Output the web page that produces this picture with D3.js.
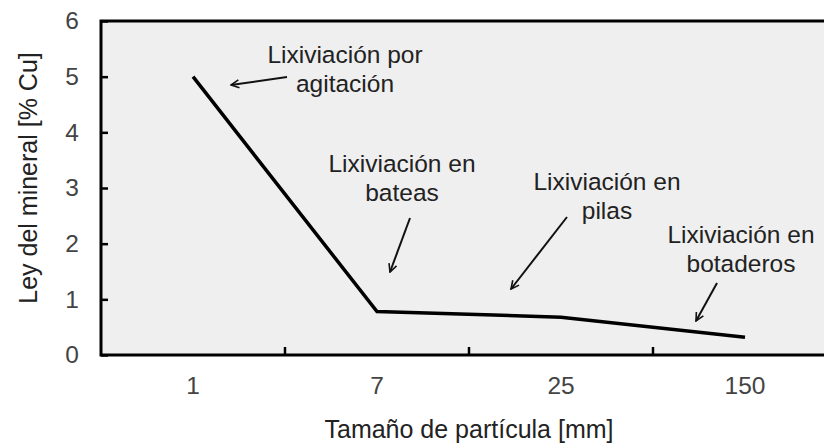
<!DOCTYPE html>
<html>
<head>
<meta charset="utf-8">
<script src="https://cdn.jsdelivr.net/npm/d3@7"></script>
<style>
  body { margin: 0; background: #fff; }
  text { font-family: "Liberation Sans", Arial, sans-serif; }
</style>
</head>
<body>
<div id="chart"></div>
<script>
// categorias del eje x (tamaño de partícula, mm)
var sizes = ['1', '7', '25', '150'];
// ley del mineral [% Cu]
var grade = [5.0, 0.78, 0.68, 0.32];
// marcas del eje y
var yTicks = [0, 1, 2, 3, 4, 5, 6];
// textos de las anotaciones
var notes = [
  ['Lixiviación por', 'agitación'],
  ['Lixiviación en', 'bateas'],
  ['Lixiviación en', 'pilas'],
  ['Lixiviación en', 'botaderos']
];

// lienzo (ojo: "top" es de window, no usarlo)
var W = 824, H = 447;
var plotLeft = 101, plotTop = 21, plotBottom = 355;
var band = 184;
var fs = 24.5;

// posiciones de anotaciones (px): texto (cx, y primera linea), flecha (desde -> punta)
var noteLayout = [
  {cx: 345, y: 63, x1: 287, y1: 77, x2: 231, y2: 85},
  {cx: 402, y: 172, x1: 410, y1: 218, x2: 390, y2: 272},
  {cx: 607, y: 190, x1: 567, y1: 217, x2: 511, y2: 289},
  {cx: 741, y: 243, x1: 717, y1: 283, x2: 696, y2: 321}
];

var svg = d3.select('#chart').append('svg')
  .attr('width', W).attr('height', H);

var x = d3.scaleBand().domain(sizes).range([plotLeft, plotLeft + band * sizes.length]).padding(0);
var y = d3.scaleLinear().domain([0, 6]).range([plotBottom, plotTop]);

svg.append('defs').append('marker')
  .attr('id', 'arrow')
  .attr('viewBox', '0 0 10 10')
  .attr('refX', 9).attr('refY', 5)
  .attr('markerWidth', 5).attr('markerHeight', 5)
  .attr('markerUnits', 'strokeWidth')
  .attr('orient', 'auto')
  .append('path')
  .attr('d', 'M1,1 L9,5 L1,9')
  .attr('fill', 'none')
  .attr('stroke', '#111')
  .attr('stroke-width', 1.6);

// fondo del área de trazado
svg.append('rect')
  .attr('x', plotLeft).attr('y', plotTop)
  .attr('width', W - plotLeft).attr('height', plotBottom - plotTop)
  .attr('fill', '#efefef');

// eje y
var gy = svg.append('g')
  .attr('transform', 'translate(' + plotLeft + ',0)')
  .call(d3.axisLeft(y).tickValues(yTicks).tickSize(-7).tickPadding(22).tickFormat(d3.format('d')));
gy.select('.domain').remove();
gy.selectAll('line').attr('stroke', '#000').attr('stroke-width', 2.5);
gy.selectAll('text').attr('font-size', fs).attr('fill', '#444').attr('font-family', 'Liberation Sans, Arial, sans-serif');

// eje x (etiquetas en el centro de cada banda)
var gx = svg.append('g')
  .attr('transform', 'translate(0,' + plotBottom + ')')
  .call(d3.axisBottom(x).tickSize(0).tickPadding(22));
gx.select('.domain').remove();
gx.selectAll('text').attr('font-size', fs).attr('fill', '#444').attr('font-family', 'Liberation Sans, Arial, sans-serif');

// marcas del eje x entre categorias
svg.append('g').selectAll('line')
  .data(sizes.slice(1))
  .enter().append('line')
  .attr('x1', function(d) { return x(d); })
  .attr('x2', function(d) { return x(d); })
  .attr('y1', plotBottom).attr('y2', plotBottom - 8)
  .attr('stroke', '#000').attr('stroke-width', 2.5);

// marco
svg.append('path')
  .attr('d', 'M' + W + ',' + plotTop + 'H' + plotLeft + 'V' + plotBottom + 'H' + W)
  .attr('fill', 'none').attr('stroke', '#000').attr('stroke-width', 3);

// serie
var line = d3.line()
  .x(function(d, i) { return x(sizes[i]) + x.bandwidth() / 2; })
  .y(function(d) { return y(d); });
svg.append('path')
  .datum(grade)
  .attr('d', line)
  .attr('fill', 'none')
  .attr('stroke', '#000')
  .attr('stroke-width', 3.5)
  .attr('stroke-linejoin', 'miter');

// anotaciones
notes.forEach(function(n, i) {
  var p = noteLayout[i];
  var t = svg.append('text')
    .attr('text-anchor', 'middle')
    .attr('font-size', fs)
    .attr('fill', '#222');
  n.forEach(function(s, k) {
    t.append('tspan').attr('x', p.cx).attr('y', p.y + k * 28.5).text(s);
  });
  svg.append('line')
    .attr('x1', p.x1).attr('y1', p.y1)
    .attr('x2', p.x2).attr('y2', p.y2)
    .attr('stroke', '#111').attr('stroke-width', 2)
    .attr('marker-end', 'url(#arrow)');
});

// títulos de ejes
svg.append('text')
  .attr('x', (plotLeft + plotLeft + band * sizes.length) / 2)
  .attr('y', 438)
  .attr('text-anchor', 'middle')
  .attr('font-size', 25)
  .attr('fill', '#222')
  .text('Tamaño de partícula [mm]');

svg.append('text')
  .attr('transform', 'translate(37,178) rotate(-90)')
  .attr('text-anchor', 'middle')
  .attr('font-size', 25)
  .attr('fill', '#222')
  .text('Ley del mineral [% Cu]');
</script>
</body>
</html>
